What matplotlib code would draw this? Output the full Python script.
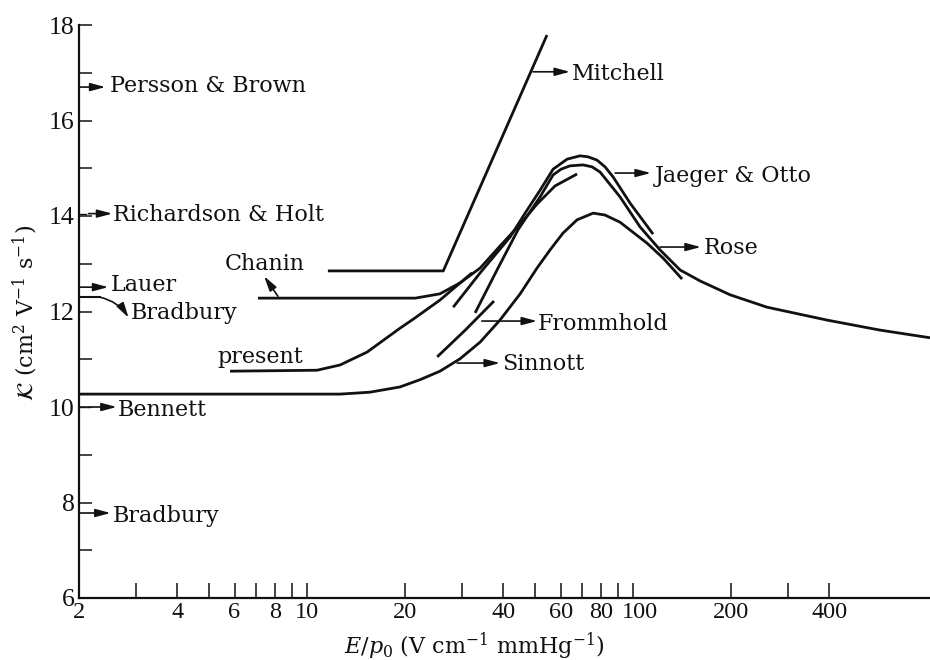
import numpy as np
import matplotlib
matplotlib.use('Agg')
import matplotlib.pyplot as plt
import matplotlib.transforms as mtransforms
from matplotlib.ticker import FixedLocator, FixedFormatter

plt.rcParams['font.family'] = ['DejaVu Serif']
plt.rcParams['mathtext.fontset'] = 'dejavuserif'

# curves: E/p0 (V cm^-1 mmHg^-1) and K (cm^2 V^-1 s^-1)
mitchell_x = [11.6, 26.2, 54.5]
mitchell_y = [12.85, 12.85, 17.79]

chanin_x = [7.08, 21.5, 25.6, 29.5, 34.0, 39.1, 45.1, 50.8, 57.7, 67.4]
chanin_y = [12.28, 12.28, 12.37, 12.60, 12.91, 13.37, 13.83, 14.25, 14.63, 14.88]

present_x = [5.81, 10.74, 12.64, 15.3, 19.3, 21.2, 25.6, 32.1]
present_y = [10.75, 10.77, 10.88, 11.15, 11.65, 11.84, 12.24, 12.81]

jaeger_x = [28.1, 34.0, 42.0, 46.7, 51.9, 56.9, 62.8, 68.8, 72.8, 77.6, 82.1, 86.9, 98.0, 115.3]
jaeger_y = [12.09, 12.81, 13.56, 14.06, 14.54, 14.98, 15.19, 15.26, 15.24, 15.17, 15.03, 14.82, 14.27, 13.62]

rose_x = [32.8, 38.3, 44.4, 51.9, 56.9, 60.2, 64.1, 70.3, 74.9, 79.3, 91.3, 105.2, 121.1,
          139.5, 160.7, 198.6, 257.8, 394, 573, 815]
rose_y = [11.97, 12.87, 13.71, 14.40, 14.86, 14.98, 15.05, 15.07, 15.03, 14.92, 14.40, 13.77, 13.29,
          12.87, 12.64, 12.35, 12.09, 11.82, 11.61, 11.45]

sinnott_x = [2.0, 12.64, 15.6, 19.3, 22.2, 25.6, 29.5, 34.0, 39.1, 45.1, 50.8, 55.7, 61.0,
             67.4, 75.5, 82.1, 91.3, 110.5, 123.7, 141.5]
sinnott_y = [10.27, 10.27, 10.31, 10.42, 10.57, 10.75, 11.01, 11.36, 11.82, 12.37, 12.91, 13.29, 13.64,
             13.92, 14.06, 14.02, 13.87, 13.43, 13.12, 12.68]

frommhold_x = [25.1, 30.6, 37.5]
frommhold_y = [11.05, 11.61, 12.22]

# zero-field values marked on the axis
zero_names = ['Persson & Brown', 'Richardson & Holt', 'Lauer', 'Bennett', 'Bradbury']
zero_vals = [16.70, 14.05, 12.51, 10.0, 7.78]
bradbury_hi = 12.30

xticks = [2, 3, 4, 5, 6, 7, 8, 9, 10, 20, 30, 40, 50, 60, 70, 80, 90, 100, 200, 300, 400]
xtick_labels = ['2', '', '4', '', '6', '', '8', '', '10', '20', '', '40', '', '60', '', '80', '',
                '100', '200', '', '400']

ink = '#111111'
fs = 16

fig = plt.figure(figsize=(9.3, 6.6), dpi=100)
ax = fig.add_axes([79 / 930, 62 / 660, 851 / 930, 573 / 660])
ax.set_xscale('log')
ax.set_xlim(2, 815)
ax.set_ylim(6, 18)

for xs, ys in [(mitchell_x, mitchell_y), (chanin_x, chanin_y), (present_x, present_y),
               (jaeger_x, jaeger_y), (rose_x, rose_y), (sinnott_x, sinnott_y),
               (frommhold_x, frommhold_y)]:
    ax.plot(xs, ys, color=ink, lw=2.0, solid_joinstyle='round', solid_capstyle='butt')

ahead = dict(arrowstyle='-|>,head_length=0.9,head_width=0.24', color=ink, lw=1.2,
             shrinkA=0, shrinkB=0)


def arrow(x0, y0, x1, y1, **kw):
    props = dict(ahead)
    props.update(kw)
    ax.annotate('', xy=(x1, y1), xytext=(x0, y0), arrowprops=props)


# axis markers
arrow(2.0, zero_vals[0], 2.41, zero_vals[0])
ax.text(2.49, 16.60, zero_names[0], fontsize=fs, color=ink)
ax.plot([2.02, 2.10], [zero_vals[1]] * 2, color=ink, lw=1.0)
arrow(2.14, zero_vals[1], 2.53, zero_vals[1])
ax.text(2.54, 13.90, zero_names[1], fontsize=fs, color=ink)
arrow(2.0, zero_vals[2], 2.46, zero_vals[2])
ax.text(2.51, 12.43, zero_names[2], fontsize=fs, color=ink)
ax.plot([2.0, 2.32], [bradbury_hi] * 2, color=ink, lw=1.5)
arrow(2.32, bradbury_hi, 2.84, 11.87, connectionstyle='arc3,rad=-0.2')
ax.text(2.88, 11.84, 'Bradbury', fontsize=fs, color=ink)
ax.plot([2.02, 2.08], [zero_vals[3]] * 2, color=ink, lw=1.0)
ax.plot([2.11, 2.16], [zero_vals[3]] * 2, color=ink, lw=1.0)
arrow(2.19, zero_vals[3], 2.61, zero_vals[3])
ax.text(2.64, 9.81, zero_names[3], fontsize=fs, color=ink)
arrow(2.0, zero_vals[4], 2.50, zero_vals[4])
ax.text(2.54, 7.59, zero_names[4], fontsize=fs, color=ink)

# curve labels
arrow(49.4, 17.02, 64.1, 17.02)
ax.text(65.0, 16.85, 'Mitchell', fontsize=fs, color=ink)
arrow(88.2, 14.90, 113.5, 14.90)
ax.text(117.0, 14.71, 'Jaeger & Otto', fontsize=fs, color=ink)
arrow(121.1, 13.35, 161.5, 13.35)
ax.text(165.3, 13.20, 'Rose', fontsize=fs, color=ink)
arrow(34.4, 11.80, 50.8, 11.80)
ax.text(51.2, 11.61, 'Frommhold', fontsize=fs, color=ink)
arrow(28.9, 10.92, 39.1, 10.92)
ax.text(39.7, 10.77, 'Sinnott', fontsize=fs, color=ink)
arrow(8.15, 12.32, 7.39, 12.74)
ax.text(5.61, 12.87, 'Chanin', fontsize=fs, color=ink)
ax.text(5.30, 10.92, 'present', fontsize=fs, color=ink)

# axes styling
for s in ['top', 'right']:
    ax.spines[s].set_visible(False)
for s in ['left', 'bottom']:
    ax.spines[s].set_linewidth(1.6)
    ax.spines[s].set_color(ink)

ax.xaxis.set_major_locator(FixedLocator(xticks))
ax.xaxis.set_major_formatter(FixedFormatter(xtick_labels))
ax.xaxis.set_minor_locator(FixedLocator([]))
ax.set_yticks([6, 8, 10, 12, 14, 16, 18])
ax.set_yticks([7, 9, 11, 13, 15, 17], minor=True)
ax.tick_params(axis='x', which='major', direction='in', length=10.5, width=1.1,
               pad=3, colors=ink)
ax.tick_params(axis='y', which='both', direction='in', length=9.5, width=1.1,
               pad=3, colors=ink)
for lab in ax.get_xticklabels():
    lab.set_fontfamily('Liberation Serif')
    lab.set_fontsize(17.5)
for lab in ax.get_yticklabels():
    lab.set_fontfamily('Liberation Serif')
    lab.set_fontsize(18.5)

# the 100 label sits a little right of its tick, as in the book
shift = mtransforms.ScaledTranslation(5 / 72, 0, fig.dpi_scale_trans)
for tick in ax.xaxis.get_major_ticks():
    if tick.label1.get_text() == '100':
        tick.label1.set_transform(tick.label1.get_transform() + shift)

ax.set_xlabel(r'$E/p_0$ (V cm$^{-1}$ mmHg$^{-1}$)', fontsize=fs, color=ink)
ax.xaxis.set_label_coords(0.465, -0.056)
ax.set_ylabel(r'$\mathcal{K}$ (cm$^2$ V$^{-1}$ s$^{-1}$)', fontsize=fs, color=ink)
ax.yaxis.set_label_coords(-0.046, 0.497)

fig.savefig('out.png', dpi=100)
